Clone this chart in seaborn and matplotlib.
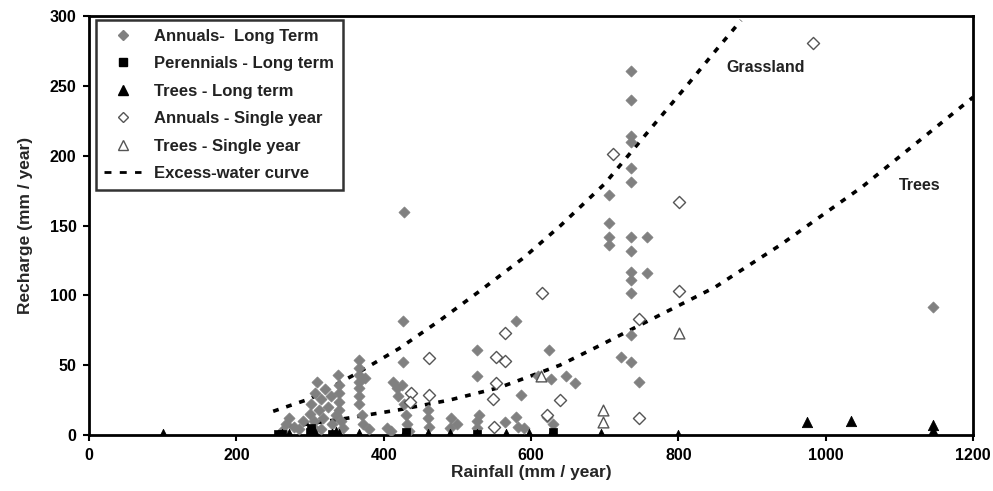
import pandas as pd
import seaborn as sns
import matplotlib.pyplot as plt
from matplotlib.lines import Line2D

# --- data ---
annual_lt_x = [262, 268, 272, 278, 285, 290,
               300, 302, 305, 307, 310, 312, 315, 318, 320, 305, 315,
               325, 328, 330, 335, 338, 340, 340, 340, 340, 342, 345,
               367, 367, 367, 367, 367, 367, 367, 370, 372, 380, 375,
               405, 410, 412, 418, 420, 425, 426, 426, 428, 428, 430, 432, 435,
               460, 462, 460, 490, 492, 500,
               527, 527, 527, 527, 530,
               564, 582, 580, 580, 587, 590,
               610, 625, 627, 622, 630, 648, 659,
               706, 706, 706, 706, 722, 736, 736, 736, 736, 736, 736, 736, 736,
               736, 736, 736, 736, 736, 747, 758, 758, 1145]
annual_lt_y = [3, 8, 12, 6, 4, 10,
               15, 22, 10, 30, 38, 18, 26, 12, 33, 5, 4,
               20, 28, 8, 14, 43, 36, 30, 24, 18, 10, 5,
               54, 48, 43, 38, 34, 28, 22, 14, 8, 4, 41,
               5, 3, 38, 34, 28, 36, 82, 52, 160, 22, 14, 8, 3,
               12, 6, 18, 5, 12, 8,
               61, 42, 10, 5, 14,
               9, 6, 13, 82, 29, 5,
               42, 61, 40, 13, 8, 42, 37,
               172, 152, 142, 136, 56, 261, 240, 214, 210, 191, 181, 142, 132,
               117, 111, 102, 72, 52, 38, 142, 116, 92]

perennial_lt_x = [257, 262, 300, 302, 330, 430, 527, 630]
perennial_lt_y = [1, 1, 2, 5, 1, 2, 1, 2]

trees_lt_x = [100, 262, 272, 300, 305, 330, 335, 340, 367, 428, 460, 490,
              526, 566, 597, 627, 695, 800, 975, 1034, 1145, 1145]
trees_lt_y = [1, 1, 1, 1, 3, 1, 2, 1, 1, 1, 1, 1,
              1, 1, 1, 1, 1, 0, 9, 10, 7, 3]

annual_sy_x = [711, 801, 801, 747, 747, 615, 564, 461, 553, 564, 553, 548,
               639, 437, 461, 622, 550, 436, 982]
annual_sy_y = [201, 167, 103, 83, 12, 102, 73, 55, 56, 53, 37, 26,
               25, 30, 29, 14, 6, 24, 281]

trees_sy_x = [614, 697, 697, 801]
trees_sy_y = [42, 18, 9, 73]

grass_x = [250, 300, 363, 421, 476, 530, 590, 640, 700, 760, 811, 850, 885]
grass_y = [17, 26, 44, 62, 82, 103, 127, 150, 180, 218, 250, 275, 297]

trees_curve_x = [272, 350, 420, 489, 557, 639, 689, 760, 850, 938, 1050, 1200]
trees_curve_y = [6, 12, 18, 25, 34, 50, 63, 82, 106, 136, 178, 242]

sns.set_theme(style="white")
plt.rcParams['font.family'] = ['Liberation Sans', 'DejaVu Sans']
plt.rcParams['font.weight'] = 'bold'

fig = plt.figure(figsize=(9.93, 4.91), dpi=100)
ax = fig.add_axes([0.0896, 0.114, 0.8904, 0.853])

gray = '#808080'
sns.scatterplot(x=annual_lt_x, y=annual_lt_y, marker='D', s=32, color=gray,
                edgecolor=gray, linewidth=0.5, ax=ax, zorder=3)
sns.scatterplot(x=annual_sy_x, y=annual_sy_y, marker='D', s=38, facecolor='white',
                edgecolor='#555555', linewidth=1.0, ax=ax, zorder=3)
sns.scatterplot(x=trees_sy_x, y=trees_sy_y, marker='^', s=60, facecolor='white',
                edgecolor='#555555', linewidth=1.0, ax=ax, zorder=3)
sns.scatterplot(x=perennial_lt_x, y=perennial_lt_y, marker='s', s=40, color='black',
                edgecolor='black', ax=ax, zorder=4)
sns.scatterplot(x=trees_lt_x, y=trees_lt_y, marker='^', s=55, color='black',
                edgecolor='black', ax=ax, zorder=4)

curve_style = dict(color='black', linewidth=2.6, dashes=(1.6, 2.2), sort=False, ax=ax, zorder=2)
sns.lineplot(x=grass_x, y=grass_y, **curve_style)
sns.lineplot(x=trees_curve_x, y=trees_curve_y, **curve_style)

ax.text(919, 263, 'Grassland', ha='center', va='center', fontsize=11.5, fontweight='bold', color='#222222')
ax.text(1127, 179, 'Trees', ha='center', va='center', fontsize=11.5, fontweight='bold', color='#222222')

ax.set_xlim(0, 1200)
ax.set_ylim(0, 300)
ax.set_xticks(range(0, 1201, 200))
ax.set_yticks(range(0, 301, 50))
ax.tick_params(axis='both', direction='out', length=4, width=1.5, labelsize=11.5,
               bottom=True, left=True, colors='black', pad=5)
for lbl in ax.get_xticklabels() + ax.get_yticklabels():
    lbl.set_fontweight('bold')
ax.set_xlabel('Rainfall (mm / year)', fontsize=12.5, fontweight='bold', labelpad=2)
ax.set_ylabel('Recharge (mm / year)', fontsize=12.5, fontweight='bold', labelpad=12)
for sp in ax.spines.values():
    sp.set_color('black')
    sp.set_linewidth(2)

handles = [
    Line2D([], [], marker='D', linestyle='', color=gray, markersize=5),
    Line2D([], [], marker='s', linestyle='', color='black', markersize=6),
    Line2D([], [], marker='^', linestyle='', color='black', markersize=7),
    Line2D([], [], marker='D', linestyle='', markerfacecolor='white', markeredgecolor='#555555', markersize=5),
    Line2D([], [], marker='^', linestyle='', markerfacecolor='white', markeredgecolor='#555555', markersize=7),
    Line2D([], [], color='black', linewidth=2, dashes=(2.5, 3)),
]
labels = ['Annuals-  Long Term', 'Perennials - Long term', 'Trees - Long term',
          'Annuals - Single year', 'Trees - Single year', 'Excess-water curve']
leg = ax.legend(handles, labels, loc='upper left', bbox_to_anchor=(0.008, 0.99),
                fontsize=12, frameon=True, fancybox=False, edgecolor='black',
                handlelength=2.2, labelspacing=0.75, borderpad=0.5, borderaxespad=0)
leg.get_frame().set_linewidth(1.8)
for t in leg.get_texts():
    t.set_fontweight('bold')
    t.set_color('#222222')

fig.savefig('out.png', dpi=100)
